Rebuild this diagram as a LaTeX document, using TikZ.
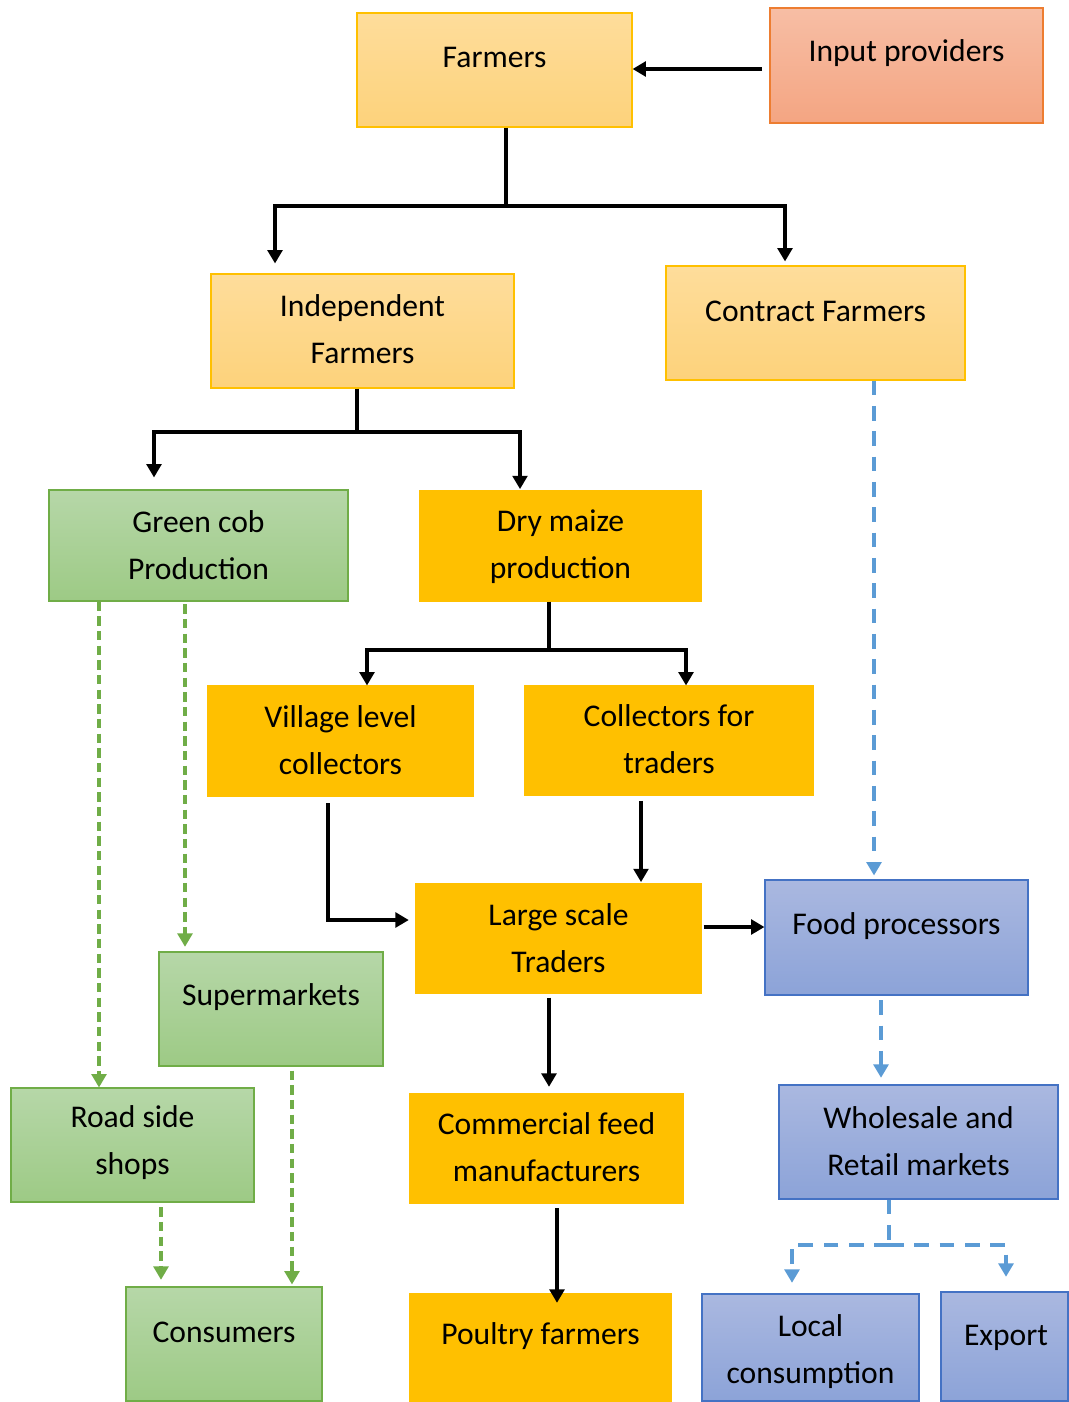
\documentclass[tikz,border=0pt]{standalone}
\usepackage{fontspec}
\setmainfont{Carlito}
\usetikzlibrary{arrows.meta,fit}
\definecolor{lorTop}{HTML}{FEDD9B}
\definecolor{lorBot}{HTML}{FDD27B}
\definecolor{lorLine}{HTML}{FFC000}
\definecolor{salTop}{HTML}{F7BEA5}
\definecolor{salBot}{HTML}{F4A582}
\definecolor{salLine}{HTML}{ED7D31}
\definecolor{grTop}{HTML}{B6D7A8}
\definecolor{grBot}{HTML}{9DCA85}
\definecolor{grLine}{HTML}{70AD47}
\definecolor{gold}{HTML}{FFC000}
\definecolor{blTop}{HTML}{AAB8E0}
\definecolor{blBot}{HTML}{8CA3D8}
\definecolor{blLine}{HTML}{4472C4}
\definecolor{blDash}{HTML}{5B9BD5}
\newcommand\mybox[7]{%
  \node[#2, fit={(#3,#4) (#5,#6)}, inner sep=0pt] (#1) {};}
\begin{document}
\begin{tikzpicture}[x=0.75pt,y=-0.75pt,
  lorbox/.style={rectangle, top color=lorTop, bottom color=lorBot, draw=lorLine, line width=0.8pt},
  salbox/.style={rectangle, top color=salTop, bottom color=salBot, draw=salLine, line width=0.8pt},
  grbox/.style={rectangle, top color=grTop, bottom color=grBot, draw=grLine, line width=0.8pt},
  goldbox/.style={rectangle, fill=gold, draw=gold, line width=0.8pt},
  blbox/.style={rectangle, top color=blTop, bottom color=blBot, draw=blLine, line width=0.8pt},
  txt/.style={inner sep=0pt, align=center, font=\fontsize{23.7}{35.25}\selectfont},
  blk/.style={line width=2.9pt, black, line join=miter},
  blkA/.style={blk, -{Triangle[length=10pt,width=11pt]}},
  gdash/.style={line width=2.9pt, grLine, dash pattern=on 7pt off 4pt, -{Triangle[length=10pt,width=11pt]}},
  bdash/.style={line width=2.9pt, blDash, dash pattern=on 11pt off 8pt, -{Triangle[length=10pt,width=11pt]}},
  bdashL/.style={line width=2.9pt, blDash, dash pattern=on 11pt off 8pt},
]
\useasboundingbox (0,0) rectangle (1068,1402);
\fill[white] (0,0) rectangle (1068,1402);

% boxes
\mybox{farm}{lorbox}{357}{13}{632}{127}{}
\node[txt] (farm-t) at (494.5,57) {Farmers};
\mybox{input}{salbox}{770}{8}{1043}{123}{}
\node[txt] (input-t) at (906.5,53) {Input providers};
\mybox{indep}{lorbox}{211}{274}{514}{388}{}
\node[txt] (indep-t) at (362.5,329.5) {Independent\\Farmers};
\mybox{contr}{lorbox}{666}{266}{965}{380}{}
\node[txt] (contr-t) at (815.5,311) {Contract Farmers};
\mybox{green}{grbox}{49}{490}{348}{601}{}
\node[txt] (green-t) at (198.5,545.5) {Green cob\\Production};
\mybox{dry}{goldbox}{420}{491}{701}{601}{}
\node[txt] (dry-t) at (560.5,546.5) {Dry maize\\production};
\mybox{vill}{goldbox}{208}{686}{473}{796}{}
\node[txt] (vill-t) at (340.5,740.5) {Village level\\collectors};
\mybox{coll}{goldbox}{525}{686}{813}{795}{}
\node[txt] (coll-t) at (669,739.5) {Collectors for\\traders};
\mybox{large}{goldbox}{416}{884}{701}{993}{}
\node[txt] (large-t) at (558.5,938) {Large scale\\Traders};
\mybox{food}{blbox}{765}{880}{1028}{995}{}
\node[txt] (food-t) at (896.5,926) {Food processors};
\mybox{super}{grbox}{159}{952}{383}{1066}{}
\node[txt] (super-t) at (271,997) {Supermarkets};
\mybox{road}{grbox}{11}{1088}{254}{1202}{}
\node[txt] (road-t) at (132.5,1143) {Road side\\shops};
\mybox{comm}{goldbox}{410}{1094}{683}{1203}{}
\node[txt] (comm-t) at (546.5,1147.5) {Commercial feed\\manufacturers};
\mybox{whole}{blbox}{779}{1085}{1058}{1199}{}
\node[txt] (whole-t) at (918.5,1141) {Wholesale and\\Retail markets};
\mybox{cons}{grbox}{126}{1287}{322}{1401}{}
\node[txt] (cons-t) at (224,1332) {Consumers};
\mybox{poul}{goldbox}{410}{1294}{671}{1401}{}
\node[txt] (poul-t) at (540.5,1336) {Poultry farmers};
\mybox{local}{blbox}{702}{1294}{919}{1401}{}
\node[txt] (local-t) at (810.5,1352) {Local\\consumption};
\mybox{exp}{blbox}{941}{1292}{1068}{1401}{}
\node[txt] (exp-t) at (1006,1338) {Export};

% junction coordinates
\coordinate (ip) at (0,69);
\coordinate (b1) at (506,206);
\coordinate (b1l) at (275,206);
\coordinate (b1r) at (785,206);
\coordinate (b2) at (357,432);
\coordinate (b2l) at (154,432);
\coordinate (b2r) at (520,432);
\coordinate (b3) at (549,650);
\coordinate (b3l) at (367,650);
\coordinate (b3r) at (686,650);
\coordinate (v1) at (328,920);
\coordinate (c1) at (641,0);
\coordinate (lf) at (0,927);
\coordinate (lc) at (549,0);
\coordinate (cp) at (557,0);
\coordinate (cf) at (874,0);
\coordinate (fw) at (881,0);
\coordinate (b4) at (889,1245);
\coordinate (b4l) at (792,1245);
\coordinate (b4r) at (1006,1245);
\coordinate (g1) at (99,0);
\coordinate (g2) at (185,0);
\coordinate (g3) at (161,0);
\coordinate (g4) at (292,0);

% black connectors
\draw[blkA, shorten <=5.5pt] (input.west |- ip) -- (farm.east |- ip);
\draw[blk] (farm.south -| b1) -- (b1);
\draw[blkA, shorten >=7.5pt] (b1) -- (b1l) -- (indep.north -| b1l);
\draw[blkA, shorten >=3pt] (b1) -- (b1r) -- (contr.north -| b1r);
\draw[blk] (indep.south -| b2) -- (b2);
\draw[blkA, shorten >=9pt] (b2) -- (b2l) -- (green.north -| b2l);
\draw[blkA, shorten >=1pt] (b2) -- (b2r) -- (dry.north -| b2r);
\draw[blk] (dry.south -| b3) -- (b3);
\draw[blkA] (b3) -- (b3l) -- (vill.north -| b3l);
\draw[blkA] (b3) -- (b3r) -- (coll.north -| b3r);
\draw[blkA, shorten <=5pt, shorten >=5pt] (vill.south -| v1) -- (v1) -- (large.west |- v1);
\draw[blkA, shorten <=4pt, shorten >=1pt] (coll.south -| c1) -- (large.north -| c1);
\draw[blkA, shorten <=1.5pt] (large.east |- lf) -- (food.west |- lf);
\draw[blkA, shorten <=3pt, shorten >=5pt] (large.south -| lc) -- (comm.north -| lc);
\draw[blkA, shorten <=3.5pt, shorten >=-7pt] (comm.south -| cp) -- (poul.north -| cp);

% blue dashed
\draw[bdash, shorten >=3pt] (contr.south -| cf) -- (food.north -| cf);
\draw[bdash, shorten <=3.5pt, shorten >=5pt] (food.south -| fw) -- (whole.north -| fw);
\draw[bdashL] (whole.south -| b4) -- (b4);
\draw[bdash, shorten >=8pt] (b4) -- (b4l) -- (local.north -| b4l);
\draw[bdash, shorten >=11pt] (b4) -- (b4r) -- (exp.north -| b4r);

% green dashed
\draw[gdash] (green.south -| g1) -- (road.north -| g1);
\draw[gdash, shorten <=2pt, shorten >=3.5pt] (green.south -| g2) -- (super.north -| g2);
\draw[gdash, shorten <=3.5pt, shorten >=5pt] (road.south -| g3) -- (cons.north -| g3);
\draw[gdash, shorten <=3pt, shorten >=1.5pt] (super.south -| g4) -- (cons.north -| g4);
\end{tikzpicture}
\end{document}
